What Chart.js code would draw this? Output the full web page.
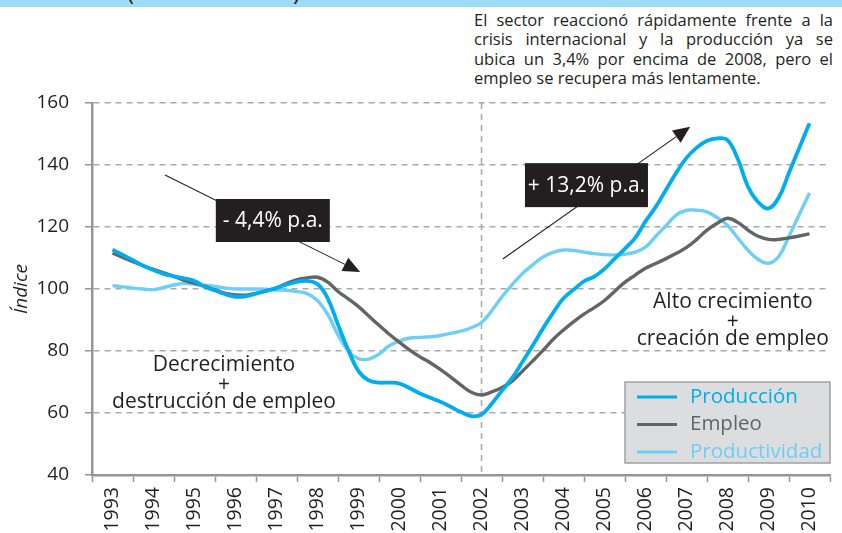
<!DOCTYPE html>
<html lang="es">
<head>
<meta charset="utf-8">
<script src="https://cdn.jsdelivr.net/npm/chart.js@4.4.1/dist/chart.umd.min.js"></script>
<style>
html,body{margin:0;padding:0;background:#fff;overflow:hidden;width:842px;height:533px;}
#wrap{position:relative;width:842px;height:533px;overflow:hidden;}
#band{position:absolute;left:0;top:0;width:842px;height:7px;background:#9ddcf6;overflow:hidden;font-family:"Open Sans",sans-serif;font-size:24px;color:#231f20;}
#band span{position:absolute;top:-26px;}
#note{position:absolute;left:474px;top:10px;width:359px;font-family:"Open Sans",sans-serif;font-size:16.5px;line-height:19.4px;color:#231f20;}
#note div{white-space:nowrap;text-align:justify;text-align-last:justify;}
#note div.last{text-align-last:left;}
canvas{position:absolute;left:0;top:0;}
</style>
</head>
<body>
<div id="wrap">
  <div id="band"><span style="left:127px">(</span><span style="left:293px">)</span></div>
  <div id="note">
    <div>El sector reaccionó rápidamente frente a la</div>
    <div>crisis internacional y la producción ya se</div>
    <div>ubica un 3,4% por encima de 2008, pero el</div>
    <div class="last">empleo se recupera más lentamente.</div>
  </div>
  <canvas id="c" width="842" height="533"></canvas>
</div>
<script>
// ---- data ----
const periods = [
  1993.00,1993.25,1993.50,1993.75,1994.00,1994.25,1994.50,1994.75,
  1995.00,1995.25,1995.50,1995.75,1996.00,1996.25,1996.50,1996.75,
  1997.00,1997.25,1997.50,1997.75,1998.00,1998.25,1998.50,1998.75,
  1999.00,1999.25,1999.50,1999.75,2000.00,2000.25,2000.50,2000.75,
  2001.00,2001.25,2001.50,2001.75,2002.00,2002.25,2002.50,2002.75,
  2003.00,2003.25,2003.50,2003.75,2004.00,2004.25,2004.50,2004.75,
  2005.00,2005.25,2005.50,2005.75,2006.00,2006.25,2006.50,2006.75,
  2007.00,2007.25,2007.50,2007.75,2008.00,2008.25,2008.50,2008.75,
  2009.00,2009.25,2009.50,2009.75,2010.00
];
const produccion = [
  112.7,111.0,109.3,107.5,106.1,104.9,104.1,103.4,
  102.6,100.7,99.5,98.3,97.5,97.6,98.5,99.4,
  100.3,101.5,102.3,102.6,101.6,97.0,88.5,80.3,
  73.5,70.5,69.8,69.8,69.5,68.0,66.3,64.9,
  63.6,62.0,60.3,59.0,59.5,63.0,67.2,71.3,
  76.5,81.8,87.3,92.4,97.0,99.8,102.5,104.0,
  106.5,109.8,113.0,116.5,121.8,126.5,132.0,137.5,
  142.3,145.6,147.8,148.6,148.0,142.0,133.0,128.0,
  126.0,129.5,137.5,145.5,153.5
];
const empleo = [
  111.6,110.2,108.8,107.5,106.3,105.2,104.1,102.8,
  101.9,100.9,99.7,98.6,98.1,98.0,98.6,99.4,
  100.4,101.8,103.0,103.6,103.8,102.2,99.2,96.8,
  94.3,91.3,88.3,85.4,82.8,80.3,78.1,76.2,
  74.0,71.6,69.0,66.7,65.8,66.8,68.2,70.3,
  73.5,76.8,80.2,83.8,86.8,89.5,91.9,94.0,
  96.3,99.3,102.2,104.5,106.7,108.2,109.8,111.5,
  113.4,116.0,119.0,121.2,122.8,121.5,119.0,117.0,
  116.0,116.0,116.5,117.1,117.8
];
const productividad = [
  101.1,100.7,100.3,100.0,99.8,100.5,101.3,101.8,
  101.5,101.2,100.8,100.3,100.0,100.0,100.0,99.9,
  99.7,99.6,99.2,98.5,96.3,91.8,85.2,80.0,
  77.5,77.4,79.0,81.7,83.2,84.2,84.4,84.6,
  85.0,85.7,86.4,87.5,89.2,93.0,97.5,101.4,
  105.0,107.8,110.3,111.8,112.6,112.4,111.9,111.4,
  111.1,111.0,111.2,111.9,113.5,117.0,120.4,123.8,
  125.4,125.4,124.9,123.0,120.5,116.5,112.5,109.5,
  108.3,110.5,117.0,124.0,131.0
];
const yearLabels = [1993,1994,1995,1996,1997,1998,1999,2000,2001,2002,2003,2004,2005,2006,2007,2008,2009,2010];
const seriesNames = ['Producción','Empleo','Productividad'];
const dividerYear = 2002;
const rateDown = '- 4,4% p.a.';
const rateUp = '+ 13,2% p.a.';
const phaseDown = ['Decrecimiento','+','destrucción de empleo'];
const phaseUp = ['Alto crecimiento','+','creación de empleo'];

// ---- styles ----
const COLORS = ['#00aeef','#636466','#6dcff6'];
const GRID = '#a7a9ac';
const AXIS = '#939598';
const INK = '#231f20';
const FONT = '"Open Sans", sans-serif';

const series = [produccion, empleo, productividad];

const overlay = {
  id: 'overlay',
  beforeDatasetsDraw(chart) {
    const {ctx, chartArea: a, scales: {x}} = chart;
    const px = x.getPixelForValue(dividerYear);
    ctx.save();
    ctx.strokeStyle = GRID; ctx.lineWidth = 1.5; ctx.setLineDash([6, 5]);
    ctx.beginPath(); ctx.moveTo(px, a.top); ctx.lineTo(px, a.bottom); ctx.stroke();
    ctx.restore();
  },
  afterDatasetsDraw(chart) {
    const {ctx, chartArea: a, scales: {x, y}} = chart;
    const P = (xv, yv) => [x.getPixelForValue(xv), y.getPixelForValue(yv)];
    ctx.save();
    // arrows
    const arrow = (from, to) => {
      const [x1, y1] = P(from[0], from[1]);
      const [x2, y2] = P(to[0], to[1]);
      const ang = Math.atan2(y2 - y1, x2 - x1);
      const L = 17, W = 7.5;
      ctx.strokeStyle = INK; ctx.fillStyle = INK; ctx.lineWidth = 1.1;
      ctx.beginPath(); ctx.moveTo(x1, y1);
      ctx.lineTo(x2 - L * Math.cos(ang), y2 - L * Math.sin(ang)); ctx.stroke();
      ctx.beginPath();
      ctx.moveTo(x2, y2);
      ctx.lineTo(x2 - L * Math.cos(ang) + W * Math.sin(ang), y2 - L * Math.sin(ang) - W * Math.cos(ang));
      ctx.lineTo(x2 - L * Math.cos(ang) - W * Math.sin(ang), y2 - L * Math.sin(ang) + W * Math.cos(ang));
      ctx.closePath(); ctx.fill();
    };
    arrow([1994.28, 136.8], [1999.04, 105.5]);
    arrow([2002.52, 109.7], [2007.09, 152.3]);
    // black rate boxes
    const box = (cx, cy, w, h, txt) => {
      const [px, py] = P(cx, cy);
      ctx.fillStyle = INK;
      ctx.fillRect(px - w / 2, py - h / 2, w, h);
      ctx.fillStyle = '#ffffff';
      ctx.font = '21px ' + FONT;
      ctx.textAlign = 'center'; ctx.textBaseline = 'middle';
      ctx.fillText(txt, px, py + 1);
    };
    box(1996.91, 122.1, 114, 43, rateDown);
    box(2004.56, 133.5, 123, 44, rateUp);
    // phase texts
    const phase = (cx, cy, lines) => {
      const [px, py] = P(cx, cy);
      ctx.fillStyle = INK; ctx.font = '21px ' + FONT;
      ctx.textAlign = 'center'; ctx.textBaseline = 'alphabetic';
      const offs = [0, 20, 37];
      lines.forEach((t, i) => ctx.fillText(t, px, py + offs[i]));
    };
    phase(1995.72, 73.5, phaseDown);
    phase(2008.13, 93.9, phaseUp);
    // legend box
    const lx = a.right - 205, ly = a.bottom - 93, lw = 205, lh = 81;
    ctx.fillStyle = '#dcdddf';
    ctx.fillRect(lx, ly, lw, lh);
    ctx.strokeStyle = '#a0a1a3'; ctx.lineWidth = 1.5;
    ctx.strokeRect(lx, ly, lw, lh);
    ctx.font = '20.5px ' + FONT; ctx.textAlign = 'left'; ctx.textBaseline = 'middle';
    chart.data.datasets.forEach((ds, i) => {
      const yy = ly + 15 + i * 27.5;
      ctx.strokeStyle = ds.borderColor; ctx.lineWidth = 3;
      ctx.beginPath(); ctx.moveTo(lx + 12, yy); ctx.lineTo(lx + 52, yy); ctx.stroke();
      ctx.fillStyle = ds.borderColor;
      ctx.fillText(ds.label, lx + 65, yy);
    });
    ctx.restore();
  }
};

new Chart(document.getElementById('c'), {
  type: 'line',
  data: {
    datasets: series.map((s, i) => ({
      label: seriesNames[i],
      data: periods.map((p, k) => ({x: p, y: s[k]})),
      borderColor: COLORS[i],
      backgroundColor: COLORS[i],
      borderWidth: i === 0 ? 3.8 : 3.4,
      pointRadius: 0,
      tension: 0.4,
      fill: false
    }))
  },
  options: {
    responsive: false,
    animation: false,
    events: [],
    layout: {padding: {top: 103, right: 12, left: 0, bottom: 0}},
    plugins: {legend: {display: false}, tooltip: {enabled: false}},
    scales: {
      x: {
        type: 'linear',
        min: 1992.5, max: 2010.5,
        afterFit(s) { s.height = 58; s.paddingLeft = 0; s.paddingRight = 0; },
        ticks: {
          stepSize: 0.5,
          autoSkip: false,
          minRotation: 90, maxRotation: 90,
          padding: 5,
          color: INK,
          font: {family: FONT, size: 19.5},
          callback: v => yearLabels.includes(v) ? String(v) : ''
        },
        grid: {
          drawOnChartArea: false,
          drawTicks: true,
          tickLength: 7,
          tickWidth: 1.5,
          tickColor: c => (c.tick && yearLabels.includes(c.tick.value)) ? 'rgba(0,0,0,0)' : AXIS
        },
        border: {display: true, color: AXIS, width: 2.5}
      },
      y: {
        min: 40, max: 160,
        afterFit(s) { s.width = 92; s.paddingTop = 0; s.paddingBottom = 0; },
        ticks: {
          stepSize: 20,
          padding: 16,
          color: INK,
          font: {family: FONT, size: 19}
        },
        grid: {
          color: c => (c.tick && c.tick.value === 40) ? 'rgba(0,0,0,0)' : GRID,
          lineWidth: 1.5,
          tickLength: 7,
          tickWidth: 1.5,
          tickColor: AXIS,
          tickBorderDash: []
        },
        border: {display: true, color: AXIS, width: 2.5, dash: [6, 5]},
        title: {
          display: true,
          text: 'Índice',
          color: INK,
          font: {family: FONT, size: 19, style: 'italic'},
          padding: {top: 10, bottom: 0}
        }
      }
    }
  },
  plugins: [overlay]
});
</script>
</body>
</html>
